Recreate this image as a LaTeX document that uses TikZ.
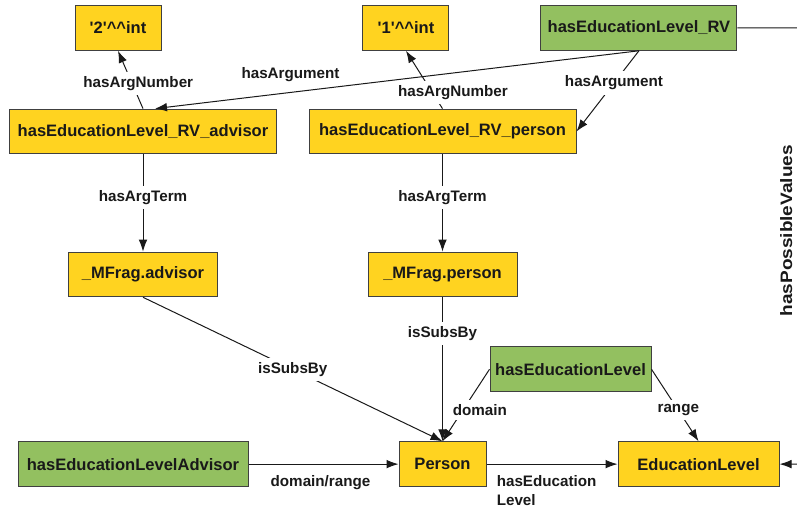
\documentclass[tikz,border=0pt]{standalone}
\usepackage{fontspec}
\setmainfont{Liberation Sans}
\usetikzlibrary{arrows.meta,positioning}
\definecolor{yelFill}{RGB}{255,211,32}
\definecolor{grnFill}{RGB}{147,192,96}
\newcommand{\nodeFnt}{\fontsize{12.4}{14}\selectfont\bfseries}
\newcommand{\edgeFnt}{\fontsize{11.4}{13.7}\selectfont\bfseries}
\tikzstyle{recNode} = [rectangle, minimum height=33.5pt, inner sep=0pt, text centered, draw=black!75, line width=0.75pt, font=\nodeFnt, text=black!90]
\tikzstyle{recNodeY} = [recNode, fill=yelFill]
\tikzstyle{recNodeG} = [recNode, fill=grnFill]
\tikzstyle{eLabel} = [font=\edgeFnt, text=black!90]
\tikzstyle{eLabelW} = [eLabel, fill=white]
\tikzstyle{arrowK} = [line width=0.75pt,->,>={Latex[length=9pt,width=6.5pt]},draw=black!90]

\begin{document}
\begin{tikzpicture}[node distance=2.5cm]
        \useasboundingbox (0,0) rectangle (597.75pt,-381.75pt);
        \clip (0,0) rectangle (597.75pt,-381.75pt);
        \node (rvadv) [recNodeY, minimum width=200.25pt] at (107.25pt,-98.6pt) {hasEducationLevel\_RV\_advisor};
        \node (int2) [recNodeY, minimum width=64.5pt, above of=rvadv, xshift=-18.75pt, yshift=6.5pt] {\textquotesingle 2\textquotesingle\textasciicircum\textasciicircum int};
        \node (mfadv) [recNodeY, minimum width=111.75pt, below of=rvadv, yshift=-36.1pt] {\_MFrag.advisor};
        \node (rvper) [recNodeY, minimum width=200.25pt, right of=rvadv, xshift=153.5pt] {hasEducationLevel\_RV\_person};
        \node (int1) [recNodeY, minimum width=64.5pt, above of=rvper, xshift=-27.4pt, yshift=6.5pt] {\textquotesingle 1\textquotesingle\textasciicircum\textasciicircum int};
        \node (rv) [recNodeG, minimum width=147pt, right of=int1, xshift=103.6pt] {hasEducationLevel\_RV};
        \node (mfper) [recNodeY, minimum width=111.75pt, below of=rvper, yshift=-36.1pt] {\_MFrag.person};
        \node (person) [recNodeY, minimum width=65.25pt, below of=mfper, yshift=-2.5cm] {Person};
        \node (hel) [recNodeG, minimum width=120.75pt, above of=person, xshift=96pt] {hasEducationLevel};
        \node (edulevel) [recNodeY, minimum width=120.75pt, right of=person, xshift=120.9pt] {EducationLevel};
        \node (heladv) [recNodeG, minimum width=172.5pt, left of=person, xshift=-161pt] {hasEducationLevelAdvisor};
        \coordinate (pvtop) at (601pt,-21pt);

        \draw [arrowK] (rvadv.north) -- node[eLabelW, pos=0.43, xshift=4.5pt] {hasArgNumber} (int2.south);
        \draw [arrowK] (rvper.north) -- node[eLabelW, pos=0.28, xshift=15.5pt] {hasArgNumber} (int1.south);
        \draw [arrowK] (rv.south) -- node[eLabel, pos=0.72, above, yshift=4pt] {hasArgument} ([xshift=9pt]rvadv.north);
        \draw [arrowK] (rv.south) -- node[eLabelW, pos=0.4] {hasArgument} (rvper.east);
        \draw [arrowK] (rvadv) -- node[eLabelW, pos=0.44] {hasArgTerm} (mfadv);
        \draw [arrowK] (rvper) -- node[eLabelW, pos=0.44] {hasArgTerm} (mfper);
        \draw [arrowK] (mfadv.south) -- node[eLabelW] {isSubsBy} (person.north);
        \draw [arrowK] (mfper) -- node[eLabelW, pos=0.25] {isSubsBy} (person);
        \draw [arrowK] (hel.west) -- node[eLabelW, pos=0.57, xshift=12.9pt] {domain} (person.north);
        \draw [arrowK] (hel.east) -- node[eLabelW, pos=0.57] {range} (edulevel.north);
        \draw [arrowK] (heladv) -- node[eLabel, below, pos=0.48, yshift=-4.5pt] {domain/range} (person);
        \draw [arrowK] (person.east) -- node[eLabel, pos=0, below right, align=left, xshift=4pt, yshift=-5pt] {hasEducation\\Level} (edulevel.west);
        \draw [arrowK] (rv.east) -- (pvtop) |- node[eLabel, pos=0.2325, rotate=90, anchor=south, inner ysep=6.5pt, font=\nodeFnt] {\scalebox{1.15}[1]{hasPossibleValues}} (edulevel.east);
    \end{tikzpicture}
\end{document}
